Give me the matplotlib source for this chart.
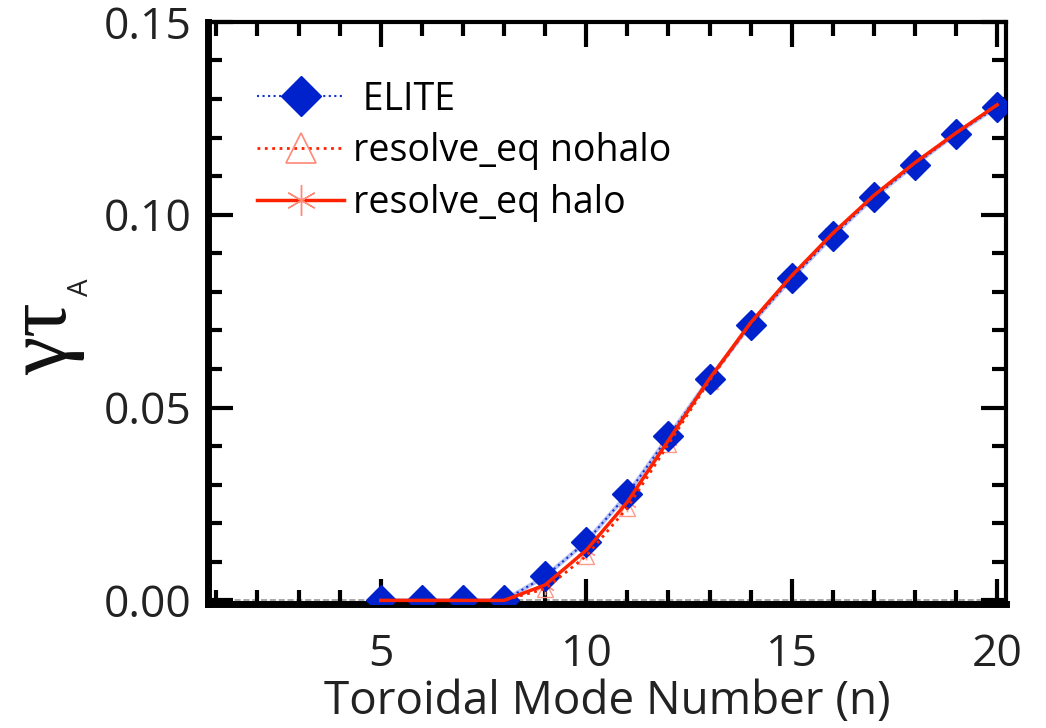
import numpy as np
from matplotlib import pyplot as plt
from matplotlib.ticker import MultipleLocator

n_vals = [5, 6, 7, 8, 9, 10, 11, 12, 13, 14, 15, 16, 17, 18, 19, 20]
elite = [0.0, 0.0, 0.0, 0.0, 0.0062, 0.0152, 0.0275, 0.0425, 0.0575,
         0.0715, 0.0835, 0.0945, 0.1045, 0.1130, 0.1210, 0.1280]
nohalo = [0.0, 0.0, 0.0, 0.0, 0.0030, 0.0115, 0.0240, 0.0405, 0.0570,
          0.0718, 0.0840, 0.0950, 0.1050, 0.1135, 0.1212, 0.1285]
halo = [0.0, 0.0, 0.0, 0.0, 0.0040, 0.0130, 0.0255, 0.0415, 0.0575,
        0.0720, 0.0842, 0.0952, 0.1050, 0.1135, 0.1212, 0.1285]

plt.rcParams['font.family'] = ['Open Sans', 'DejaVu Sans']

fig = plt.figure(figsize=(10.46, 7.28), dpi=100)
ax = fig.add_axes([0.199, 0.170, 0.763, 0.800])

ax.axhline(0.0, color='0.6', lw=1.2, ls='--', zorder=1)

# light blue band under the ELITE curve
ax.plot(n_vals, elite, color='#8899ee', lw=3, alpha=0.6, zorder=2)
ax.plot(n_vals, nohalo, ls='none', marker='^', ms=12, mfc='none',
        mec='#ff9988', mew=1.0, zorder=2)
ax.plot(n_vals, halo, ls='none', marker=(6, 2, 0), ms=14,
        mec='#ff9988', mew=1.0, zorder=2)
ax.plot(n_vals, elite, color='#1133cc', lw=1.5, ls=':', marker='D',
        ms=15, mfc='#0022cc', mec='#0022cc', zorder=3)
ax.plot(n_vals, nohalo, color='#ff2200', lw=2, ls=':', zorder=4)
ax.plot(n_vals, halo, color='#ff2200', lw=2.5, ls='-', zorder=5)

# legend entries
ax.plot([], [], color='#1133cc', lw=1.5, ls=':', marker='D', ms=20,
        mfc='#0022cc', mec='#0022cc', label=' ELITE')
ax.plot([], [], color='#ff2200', lw=2, ls=':', marker='^', ms=22,
        mfc='none', mec='#ff8877', mew=1.2, label='resolve_eq nohalo')
ax.plot([], [], color='#ff2200', lw=2.5, ls='-', marker=(6, 2, 0),
        ms=22, mec='#ff8877', mew=1.0, label='resolve_eq halo')

ax.set_xlim(0.8, 20.22)
ax.set_ylim(-0.001, 0.15)
ax.xaxis.set_major_locator(MultipleLocator(5))
ax.xaxis.set_minor_locator(MultipleLocator(1))
ax.yaxis.set_major_locator(MultipleLocator(0.05))
ax.yaxis.set_minor_locator(MultipleLocator(0.01))
ax.yaxis.set_major_formatter(plt.FormatStrFormatter('%.2f'))

ax.tick_params(which='both', direction='in', top=True, right=True,
               labelsize=32, colors='black', labelcolor='#222222')
ax.tick_params(which='major', length=18, width=3)
ax.tick_params(which='minor', length=10, width=3)
ax.tick_params(axis='x', which='major', pad=20)
ax.tick_params(axis='y', which='major', pad=12)
for side in ['left', 'bottom']:
    ax.spines[side].set_linewidth(5)
for side in ['top', 'right']:
    ax.spines[side].set_linewidth(3)

ax.set_xlabel('Toroidal Mode Number (n)', fontsize=33, color='#222222',
              labelpad=2)

# y label: upright greek plus a small raised "A"
fig.text(0.043, 0.535, '\u03b3\u03c4', family='Liberation Serif',
         fontsize=62, rotation=90, ha='center', va='center', color='#111111')
fig.text(0.077, 0.606, 'A', fontsize=20, rotation=90, ha='center',
         va='center', color='#222222')

leg = ax.legend(loc='upper left', bbox_to_anchor=(0.043, 0.925),
                frameon=False, fontsize=27, handlelength=2.3,
                handletextpad=0.25, labelspacing=0.37, borderaxespad=0.0)

fig.savefig('out.png', dpi=100)
